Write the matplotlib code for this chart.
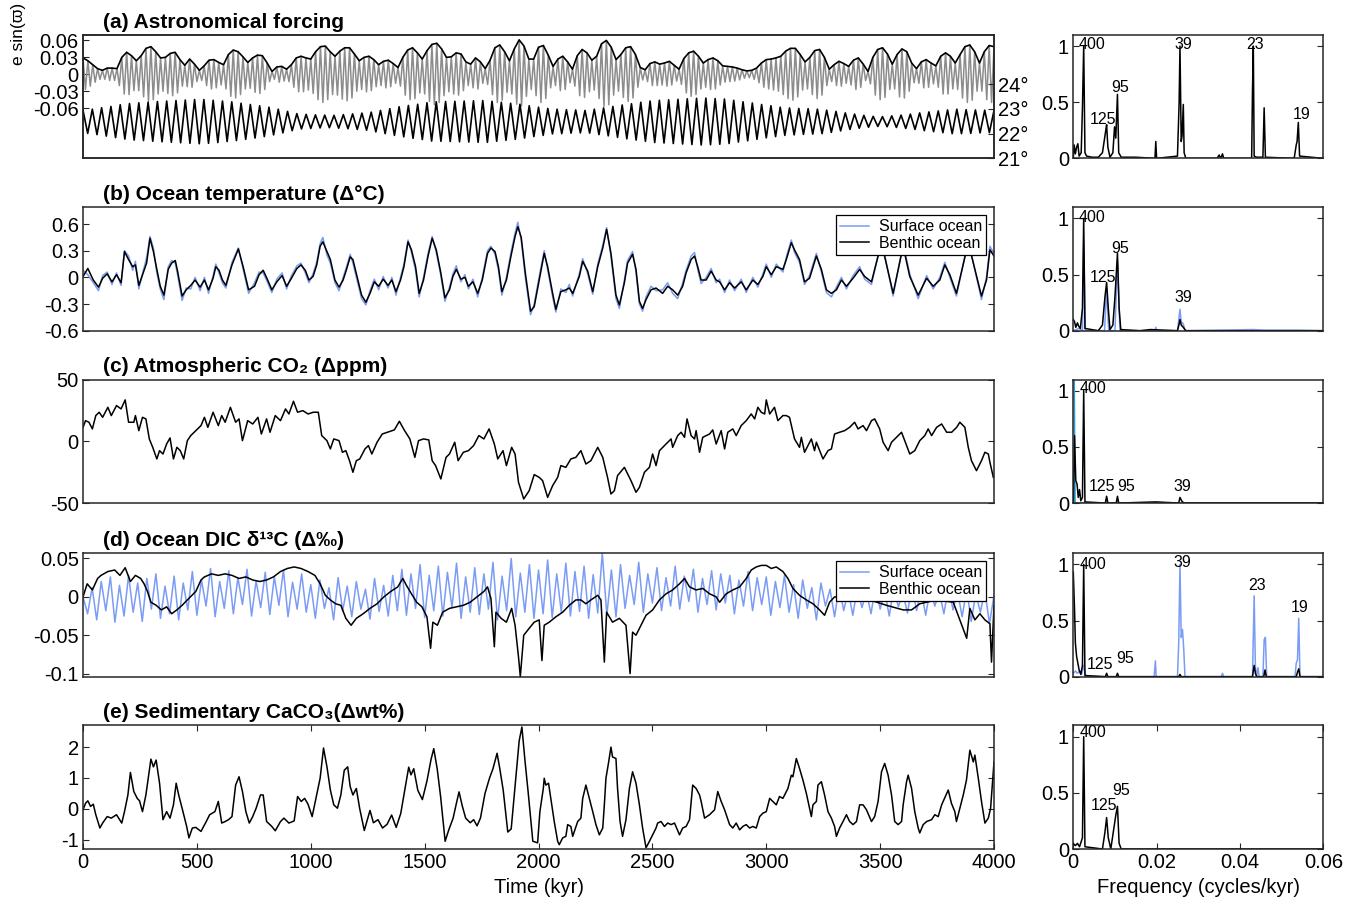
import numpy as np
import matplotlib
matplotlib.use('Agg')
import matplotlib.pyplot as plt

plt.rcParams['font.family'] = ['Liberation Sans', 'DejaVu Sans']
plt.rcParams['axes.unicode_minus'] = False
plt.rcParams['font.size'] = 14

# ---------------- (a) astronomical forcing ----------------
# eccentricity envelope, evenly spaced over 0-4000 kyr
ecc = [0.029, 0.024, 0.017, 0.010, 0.007, 0.011, 0.011, 0.010, 0.030, 0.039,
       0.033, 0.024, 0.033, 0.046, 0.049, 0.040, 0.029, 0.030, 0.037, 0.039,
       0.026, 0.016, 0.027, 0.018, 0.007, 0.015, 0.025, 0.026, 0.021, 0.017,
       0.035, 0.043, 0.040, 0.031, 0.021, 0.029, 0.034, 0.033, 0.020, 0.005,
       0.013, 0.014, 0.009, 0.017, 0.029, 0.032, 0.029, 0.027, 0.040, 0.049,
       0.050, 0.040, 0.032, 0.041, 0.047, 0.047, 0.036, 0.024, 0.030, 0.032,
       0.026, 0.017, 0.023, 0.025, 0.019, 0.012, 0.030, 0.043, 0.047, 0.038,
       0.027, 0.042, 0.053, 0.055, 0.045, 0.030, 0.031, 0.038, 0.036, 0.022,
       0.018, 0.029, 0.022, 0.010, 0.025, 0.047, 0.052, 0.040, 0.024, 0.045,
       0.061, 0.050, 0.027, 0.027, 0.048, 0.051, 0.034, 0.014, 0.027, 0.032,
       0.022, 0.009, 0.033, 0.044, 0.038, 0.025, 0.032, 0.054, 0.060, 0.048,
       0.026, 0.035, 0.047, 0.049, 0.035, 0.012, 0.008, 0.019, 0.022, 0.018,
       0.020, 0.023, 0.016, 0.009, 0.028, 0.038, 0.041, 0.032, 0.020, 0.026,
       0.029, 0.024, 0.015, 0.014, 0.013, 0.011, 0.008, 0.006, 0.007, 0.011,
       0.020, 0.026, 0.027, 0.029, 0.032, 0.041, 0.046, 0.046, 0.035, 0.022,
       0.030, 0.042, 0.044, 0.030, 0.009, 0.017, 0.023, 0.019, 0.014, 0.025,
       0.029, 0.018, 0.005, 0.030, 0.044, 0.047, 0.036, 0.018, 0.035, 0.045,
       0.040, 0.020, 0.010, 0.022, 0.026, 0.020, 0.015, 0.032, 0.038, 0.032,
       0.020, 0.035, 0.049, 0.052, 0.040, 0.020, 0.040, 0.051, 0.049]

# e*sin(varpi): precession extremes, evenly spaced
esinw = [0.029, -0.027, 0.024, -0.021, 0.017, -0.014, 0.010, -0.009, 0.007, -0.009,
         0.011, -0.011, 0.011, -0.011, 0.010, -0.020, 0.030, -0.035, 0.039, -0.036,
         0.033, -0.029, 0.024, -0.029, 0.033, -0.040, 0.046, -0.048, 0.049, -0.045,
         0.040, -0.035, 0.029, -0.030, 0.030, -0.034, 0.037, -0.038, 0.039, -0.033,
         0.026, -0.021, 0.016, -0.022, 0.027, -0.023, 0.018, -0.013, 0.007, -0.011,
         0.015, -0.020, 0.025, -0.026, 0.026, -0.024, 0.021, -0.019, 0.017, -0.026,
         0.035, -0.039, 0.043, -0.042, 0.040, -0.036, 0.031, -0.026, 0.021, -0.025,
         0.029, -0.032, 0.034, -0.034, 0.033, -0.027, 0.020, -0.013, 0.005, -0.009,
         0.013, -0.014, 0.014, -0.012, 0.009, -0.013, 0.017, -0.023, 0.029, -0.031,
         0.032, -0.031, 0.029, -0.028, 0.027, -0.034, 0.040, -0.045, 0.049, -0.050,
         0.050, -0.045, 0.040, -0.036, 0.032, -0.037, 0.041, -0.044, 0.047, -0.047,
         0.047, -0.042, 0.036, -0.030, 0.024, -0.027, 0.030, -0.031, 0.032, -0.029,
         0.026, -0.022, 0.017, -0.020, 0.023, -0.024, 0.025, -0.022, 0.019, -0.016,
         0.012, -0.021, 0.030, -0.037, 0.043, -0.045, 0.047, -0.043, 0.038, -0.033,
         0.027, -0.035, 0.042, -0.048, 0.053, -0.054, 0.055, -0.050, 0.045, -0.038,
         0.030, -0.031, 0.031, -0.035, 0.038, -0.037, 0.036, -0.029, 0.022, -0.020,
         0.018, -0.024, 0.029, -0.026, 0.022, -0.016, 0.010, -0.018, 0.025, -0.036,
         0.047, -0.050, 0.052, -0.046, 0.040, -0.032, 0.024, -0.035, 0.045, -0.053,
         0.061, -0.056, 0.050, -0.039, 0.027, -0.027, 0.027, -0.038, 0.048, -0.050,
         0.051, -0.043, 0.034, -0.024, 0.014, -0.020, 0.027, -0.029, 0.032, -0.027,
         0.022, -0.015, 0.009, -0.021, 0.033, -0.038, 0.044, -0.041, 0.038, -0.031,
         0.025, -0.028, 0.032, -0.043, 0.054, -0.057, 0.060, -0.054, 0.048, -0.037,
         0.026, -0.030, 0.035, -0.041, 0.047, -0.048, 0.049, -0.042, 0.035, -0.023,
         0.012, -0.010, 0.008, -0.013, 0.019, -0.020, 0.022, -0.020, 0.018, -0.019,
         0.020, -0.021, 0.023, -0.019, 0.016, -0.012, 0.009, -0.018, 0.028, -0.033,
         0.038, -0.039, 0.041, -0.036, 0.032, -0.026, 0.020, -0.023, 0.026, -0.027,
         0.029, -0.026, 0.024, -0.019, 0.015, -0.014, 0.014, -0.013, 0.013, -0.012,
         0.011, -0.010, 0.008, -0.007, 0.006, -0.006, 0.007, -0.009, 0.011, -0.015,
         0.020, -0.023, 0.026, -0.026, 0.027, -0.028, 0.029, -0.030, 0.032, -0.036,
         0.041, -0.043, 0.046, -0.046, 0.046, -0.040, 0.035, -0.028, 0.022, -0.026,
         0.030, -0.036, 0.042, -0.043, 0.044, -0.037, 0.030, -0.020, 0.009, -0.013,
         0.017, -0.020, 0.023, -0.021, 0.019, -0.016, 0.014, -0.019, 0.025, -0.027,
         0.029, -0.023, 0.018, -0.011, 0.005, -0.017, 0.030, -0.037, 0.044, -0.045,
         0.047, -0.041, 0.036, -0.027, 0.018, -0.026, 0.035, -0.040, 0.045, -0.042,
         0.040, -0.030, 0.020, -0.015, 0.010, -0.016, 0.022, -0.024, 0.026, -0.023,
         0.020, -0.017, 0.015, -0.023, 0.032, -0.035, 0.038, -0.035, 0.032, -0.026,
         0.020, -0.027, 0.035, -0.042, 0.049, -0.050, 0.052, -0.046, 0.040, -0.030,
         0.020, -0.030, 0.040, -0.045, 0.051, -0.050, 0.049]

# obliquity extremes (degrees), evenly spaced
obliquity = [22.94, 22.01, 22.99, 21.96, 23.05, 21.90, 23.10, 21.84, 23.17, 21.78,
             23.22, 21.74, 23.25, 21.72, 23.27, 21.69, 23.30, 21.67, 23.32, 21.65,
             23.34, 21.63, 23.36, 21.61, 23.38, 21.59, 23.38, 21.61, 23.35, 21.64,
             23.32, 21.68, 23.29, 21.72, 23.23, 21.77, 23.18, 21.82, 23.13, 21.88,
             23.07, 21.95, 22.99, 22.03, 22.90, 22.12, 22.81, 22.19, 22.78, 22.21,
             22.76, 22.23, 22.75, 22.24, 22.74, 22.22, 22.77, 22.20, 22.80, 22.17,
             22.83, 22.14, 22.87, 22.07, 22.94, 22.00, 23.01, 21.93, 23.09, 21.87,
             23.14, 21.81, 23.19, 21.76, 23.25, 21.70, 23.29, 21.69, 23.30, 21.68,
             23.31, 21.67, 23.32, 21.66, 23.33, 21.65, 23.34, 21.65, 23.31, 21.69,
             23.27, 21.73, 23.23, 21.77, 23.19, 21.82, 23.13, 21.88, 23.07, 21.93,
             23.02, 21.99, 22.99, 22.00, 22.97, 22.02, 22.96, 22.03, 22.94, 22.02,
             22.99, 21.96, 23.04, 21.91, 23.10, 21.85, 23.16, 21.79, 23.21, 21.74,
             23.27, 21.69, 23.32, 21.64, 23.35, 21.62, 23.37, 21.60, 23.39, 21.58,
             23.41, 21.56, 23.43, 21.54, 23.44, 21.55, 23.42, 21.57, 23.40, 21.60,
             23.35, 21.66, 23.29, 21.71, 23.24, 21.77, 23.18, 21.83, 23.13, 21.88,
             23.07, 21.93, 23.04, 21.95, 23.02, 21.97, 23.01, 21.98, 22.99, 22.00,
             22.95, 22.05, 22.90, 22.11, 22.84, 22.17, 22.79, 22.22, 22.74, 22.26,
             22.70, 22.29, 22.69, 22.28, 22.72, 22.25, 22.75, 22.21, 22.79, 22.17,
             22.84, 22.12, 22.88, 22.08, 22.92, 22.04, 22.96, 22.00, 22.99, 22.00,
             22.97, 22.01, 22.96, 22.03, 22.95, 22.04, 22.94]

# ---------------- (b) ocean temperature ----------------
temp_t = [0, 21, 45, 68, 86, 106, 127, 147, 167, 182, 200, 218, 230, 245, 264, 279, 294, 309, 324, 339,
          355, 374, 389, 405, 415, 435, 453, 473, 492, 514, 533, 551, 571, 583, 597, 612, 627, 654, 682, 703,
          727, 753, 773, 791, 809, 829, 851, 874, 894, 915, 939, 957, 976, 992, 1010, 1026, 1041, 1053, 1071, 1086,
          1106, 1124, 1142, 1157, 1173, 1185, 1203, 1223, 1242, 1260, 1279, 1298, 1318, 1339, 1356, 1374, 1394, 1409, 1427, 1442,
          1460, 1476, 1495, 1515, 1533, 1551, 1571, 1589, 1609, 1624, 1639, 1659, 1677, 1692, 1712, 1733, 1753, 1776, 1791, 1809,
          1824, 1839, 1859, 1879, 1897, 1909, 1924, 1942, 1965, 1981, 2003, 2025, 2040, 2062, 2076, 2098, 2120, 2135, 2150, 2179,
          2194, 2216, 2238, 2260, 2282, 2299, 2318, 2340, 2355, 2377, 2391, 2413, 2428, 2443, 2457, 2472, 2494, 2516, 2545, 2567,
          2589, 2611, 2633, 2648, 2670, 2685, 2699, 2714, 2736, 2758, 2780, 2795, 2817, 2839, 2861, 2890, 2912, 2941, 2963, 2985,
          3000, 3022, 3044, 3073, 3088, 3110, 3124, 3146, 3168, 3190, 3220, 3242, 3264, 3286, 3308, 3330, 3352, 3381, 3410, 3432,
          3462, 3506, 3557, 3601, 3630, 3667, 3704, 3733, 3762, 3784, 3806, 3835, 3887, 3945, 3967, 3982, 4000]
temp_benthic = [0.01, 0.10, -0.03, -0.11, -0.01, 0.04, -0.05, 0.03, -0.06, 0.29,
                0.20, 0.12, 0.14, -0.09, 0.05, 0.16, 0.44, 0.29, 0.09, -0.10,
                -0.20, 0.09, 0.16, 0.19, 0.07, -0.21, -0.14, -0.09, -0.03, -0.11,
                -0.03, -0.14, -0.01, 0.12, 0.08, -0.03, -0.09, 0.14, 0.32, 0.12,
                -0.14, -0.10, 0.03, 0.08, -0.02, -0.14, -0.05, 0.02, -0.10, -0.01,
                0.10, 0.14, 0.08, -0.03, 0.01, 0.14, 0.35, 0.40, 0.29, 0.20,
                -0.03, -0.11, -0.03, 0.09, 0.23, 0.20, 0.01, -0.20, -0.28, -0.18,
                -0.05, -0.10, -0.02, -0.09, -0.03, -0.16, -0.03, 0.12, 0.40, 0.31,
                0.12, -0.18, -0.03, 0.24, 0.44, 0.31, 0.05, -0.23, -0.14, 0.01,
                0.09, -0.02, 0.00, -0.10, -0.05, -0.18, -0.03, 0.27, 0.33, 0.29,
                0.12, -0.16, -0.03, 0.24, 0.46, 0.57, 0.45, 0.05, -0.38, -0.33,
                -0.03, 0.27, 0.12, -0.18, -0.36, -0.16, -0.14, -0.12, -0.18, 0.01,
                0.18, 0.07, -0.16, 0.12, 0.33, 0.54, 0.27, -0.20, -0.31, -0.06,
                0.16, 0.26, 0.09, -0.27, -0.35, -0.25, -0.14, -0.12, -0.18, -0.10,
                -0.14, -0.20, -0.10, 0.05, 0.20, 0.24, 0.12, -0.03, -0.03, 0.07,
                -0.03, -0.05, -0.14, -0.06, -0.12, -0.05, -0.14, -0.03, -0.08, 0.01,
                0.12, 0.03, 0.12, 0.09, 0.20, 0.39, 0.31, 0.20, -0.05, -0.01,
                0.24, 0.09, -0.14, -0.18, -0.14, -0.03, -0.10, -0.01, 0.09, 0.01,
                -0.05, 0.39, -0.18, 0.35, 0.01, -0.20, -0.01, -0.10, -0.03, 0.14,
                0.03, -0.18, 0.39, -0.21, -0.03, 0.31, 0.24]
temp_surface = [0.08, 0.03, -0.06, -0.15, 0.02, 0.06, -0.08, 0.05, -0.09, 0.30,
                0.24, 0.08, 0.18, -0.13, 0.07, 0.22, 0.46, 0.33, 0.05, -0.13,
                -0.25, 0.12, 0.19, 0.16, 0.03, -0.26, -0.12, -0.13, 0.00, -0.15,
                0.00, -0.18, 0.02, 0.15, 0.05, -0.06, -0.12, 0.17, 0.33, 0.09,
                -0.18, -0.06, 0.06, 0.05, -0.05, -0.17, -0.02, 0.05, -0.13, 0.02,
                0.13, 0.16, 0.05, -0.06, 0.04, 0.17, 0.38, 0.45, 0.25, 0.16,
                -0.06, -0.15, 0.00, 0.12, 0.26, 0.16, -0.03, -0.24, -0.31, -0.15,
                -0.02, -0.14, 0.01, -0.12, 0.00, -0.20, 0.00, 0.15, 0.42, 0.28,
                0.08, -0.22, 0.00, 0.27, 0.46, 0.28, 0.02, -0.27, -0.11, 0.04,
                0.13, -0.05, 0.03, -0.13, -0.02, -0.22, 0.00, 0.30, 0.35, 0.26,
                0.08, -0.20, 0.00, 0.28, 0.50, 0.62, 0.42, 0.00, -0.42, -0.30,
                0.01, 0.30, 0.09, -0.22, -0.39, -0.13, -0.17, -0.08, -0.21, 0.04,
                0.21, 0.04, -0.19, 0.15, 0.36, 0.56, 0.24, -0.24, -0.35, -0.03,
                0.19, 0.29, 0.06, -0.30, -0.38, -0.22, -0.10, -0.15, -0.14, -0.06,
                -0.18, -0.24, -0.06, 0.08, 0.24, 0.28, 0.09, -0.07, 0.00, 0.10,
                -0.06, -0.02, -0.17, -0.03, -0.15, -0.02, -0.17, 0.00, -0.11, 0.04,
                0.15, 0.00, 0.15, 0.06, 0.23, 0.42, 0.28, 0.17, -0.08, 0.02,
                0.27, 0.06, -0.17, -0.22, -0.11, 0.00, -0.13, 0.02, 0.12, -0.02,
                -0.08, 0.42, -0.21, 0.38, 0.04, -0.24, 0.02, -0.13, 0.00, 0.17,
                0.00, -0.21, 0.42, -0.25, 0.00, 0.35, 0.27]

# ---------------- (c) atmospheric CO2 ----------------
co2_t = [0, 11, 26, 41, 56, 71, 86, 109, 124, 147, 167, 185, 200, 223, 230, 245, 261, 276, 291, 306,
         324, 336, 351, 367, 382, 397, 412, 427, 442, 458, 473, 495, 518, 533, 548, 571, 594, 609, 624, 647,
         670, 685, 700, 723, 745, 768, 783, 806, 821, 844, 867, 889, 904, 924, 942, 965, 988, 1011, 1033, 1048,
         1071, 1086, 1101, 1124, 1139, 1154, 1170, 1185, 1200, 1215, 1238, 1253, 1268, 1291, 1314, 1336, 1367, 1389, 1412, 1435,
         1457, 1473, 1495, 1518, 1533, 1548, 1571, 1594, 1609, 1632, 1647, 1670, 1692, 1715, 1738, 1760, 1783, 1806, 1821, 1844,
         1859, 1882, 1897, 1912, 1935,
         1959, 1981, 2003, 2018, 2040, 2062, 2084, 2098, 2120, 2142, 2164, 2186, 2208, 2230, 2260, 2282, 2303, 2318, 2333, 2347,
         2377, 2406, 2428, 2443, 2465, 2487, 2501, 2516, 2531, 2553, 2582, 2589, 2611, 2626, 2641, 2652, 2670, 2685, 2692, 2707,
         2721, 2751, 2765, 2780, 2802, 2817, 2831, 2853, 2868, 2890, 2912, 2934, 2949, 2963, 2978, 2993, 3000, 3015, 3036, 3051,
         3073, 3088, 3102, 3124, 3146, 3154, 3168, 3198, 3212, 3220, 3249, 3271, 3286, 3300, 3322, 3344, 3366, 3388, 3403, 3425,
         3440, 3462, 3476, 3498, 3513, 3535, 3550, 3572, 3594, 3616, 3630, 3652, 3674, 3696, 3711, 3726, 3748, 3770, 3792, 3814,
         3836, 3850, 3872, 3887, 3901, 3923, 3945, 3960, 3975, 3982, 3997]
co2 = [11.3, 16.7, 15.4, 10.0, 20.8, 23.5, 19.4, 27.5, 20.8, 28.9,
       26.2, 33.5, 15.4, 15.4, 20.8, 8.6, 19.4, 18.1, 1.9, -4.9,
       -14.3, -7.6, -10.3, -2.2, 2.7, -14.3, -4.9, -7.6, -14.3, 0.5,
       4.6, 8.6, 12.7, 19.4, 11.3, 23.5, 12.7, 20.8, 15.4, 27.5,
       15.4, 18.1, 0.5, 16.7, 14.0, 19.4, 5.9, 18.1, 7.3, 20.8,
       16.7, 26.2, 22.1, 32.4, 23.5, 24.8, 22.1, 23.5, 23.5, 4.6,
       0.5, -6.2, 1.9, 0.5, -8.9, -7.6, -15.7, -25.1, -15.7, -14.3,
       -6.2, -3.5, -10.3, -0.8, 5.9, 7.3, 9.2, 16.2, 8.6, 1.9,
       -13.0, 0.5, 1.9, 1.1, -15.7, -19.7, -30.5, -13.0, -10.3, -0.8,
       -15.7, -8.9, -7.6, -3.5, 4.6, 1.9, 10.0, -2.2, -14.3, -7.6,
       -19.7, -4.9, -10.3, -33.2, -46.7,
       -40.0, -27.0, -29.2, -31.9, -45.4, -35.9, -29.2, -19.7, -21.1, -14.3,
       -13.0, -7.6, -18.4, -15.7, -4.9, -13.0, -29.2, -42.7, -40.0, -27.8,
       -21.1, -31.9, -41.3, -37.3, -25.1, -21.1, -10.3, -19.7, -7.6, -3.5,
       1.9, -4.9, 4.6, 7.3, 3.2, 18.1, 4.6, 1.9, 8.6, -8.9,
       3.2, 5.9, 9.2, -2.2, 8.6, -6.2, 7.3, 10.0, 4.6, 12.7,
       16.7, 22.1, 18.1, 27.5, 23.5, 22.1, 33.5, 22.1, 27.5, 16.7,
       20.8, 20.8, 19.4, 1.9, -4.9, 3.2, -8.9, 1.9, -7.6, -0.8,
       -14.3, -7.6, -6.2, 5.9, 7.3, 8.6, 11.3, 15.4, 10.0, 12.7,
       8.6, 16.7, 18.1, 10.0, -0.8, -7.6, -0.8, 3.2, 7.3, -3.5,
       -10.3, -7.6, 0.5, 4.6, 10.0, 4.6, 11.3, 14.0, 7.3, 7.3,
       11.3, 15.4, 11.3, -4.9, -15.7, -23.8, -15.7, -8.9, -10.3, -17.0, -29.2]

# ---------------- (d) ocean DIC d13C ----------------
# surface ocean extremes, evenly spaced
d13c_surface = [0.000, -0.022, 0.012, -0.030, 0.020, -0.018, 0.026, -0.033, 0.015, -0.025,
                0.028, -0.020, 0.018, -0.032, 0.024, -0.016, 0.030, -0.028, 0.014, -0.022,
                0.027, -0.030, 0.018, -0.017, 0.033, -0.024, 0.022, -0.012, 0.037, -0.026,
                0.020, -0.015, 0.034, -0.022, 0.025, -0.010, 0.036, -0.025, 0.021, -0.014,
                0.032, -0.023, 0.026, -0.011, 0.035, -0.026, 0.019, -0.016, 0.030, -0.020,
                0.016, -0.028, 0.022, -0.015, 0.012, -0.030, 0.025, -0.018, 0.014, -0.026,
                0.020, -0.016, 0.010, -0.029, 0.024, -0.019, 0.015, -0.025, 0.028, -0.018,
                0.036, -0.024, 0.030, -0.015, 0.042, -0.027, 0.028, -0.018, 0.040, -0.025,
                0.032, -0.014, 0.044, -0.028, 0.026, -0.020, 0.038, -0.023, 0.030, -0.016,
                0.045, -0.030, 0.027, -0.018, 0.050, -0.026, 0.031, -0.020, 0.042, -0.028,
                0.035, -0.022, 0.048, -0.027, 0.030, -0.020, 0.044, -0.025, 0.033, -0.019,
                0.040, -0.028, 0.029, -0.021, 0.057, -0.024, 0.035, -0.026, 0.042, -0.015,
                0.028, -0.010, 0.045, -0.020, 0.030, -0.008, 0.038, -0.018, 0.025, -0.012,
                0.040, -0.016, 0.027, -0.006, 0.036, -0.020, 0.024, -0.010, 0.034, -0.017,
                0.030, -0.008, 0.028, -0.022, 0.022, -0.012, 0.033, -0.018, 0.025, -0.010,
                0.026, -0.024, 0.020, -0.014, 0.028, -0.020, 0.016, -0.028, 0.022, -0.015,
                0.012, -0.030, 0.018, -0.012, 0.010, -0.026, 0.014, -0.018, 0.008, -0.024,
                0.012, -0.014, 0.006, -0.022, 0.015, -0.016, 0.008, -0.025, 0.012, -0.013,
                0.005, -0.021, 0.014, -0.018, 0.009, -0.024, 0.011, -0.012, 0.006, -0.022,
                0.013, -0.017, 0.007, -0.026, 0.010, -0.032, 0.004, -0.020, 0.008, -0.035,
                0.002]
d13c_t = [0, 18, 41, 64, 79, 109, 139, 162, 185, 208, 230, 253, 268, 283, 298, 321, 344, 367, 389, 412,
          435, 458, 495, 518, 533, 564, 594, 624, 654, 685, 715, 745, 776, 806, 836, 867, 897, 927, 957, 988,
          1018, 1041, 1064, 1086, 1109, 1132, 1154, 1177, 1200, 1230, 1260, 1291, 1321, 1351, 1382, 1404, 1420, 1442, 1465, 1488,
          1510, 1526, 1536, 1556, 1579, 1609, 1639, 1670, 1700, 1730, 1760, 1776, 1791, 1806, 1813, 1836, 1859, 1882, 1897, 1912,
          1920, 1935,
          1959, 1981, 2003, 2015, 2025, 2047, 2076, 2106, 2135, 2164, 2186, 2208, 2230, 2260, 2274, 2289, 2299, 2325, 2355, 2384,
          2402, 2413, 2428, 2450, 2472, 2501, 2531, 2560, 2589, 2619, 2641, 2663, 2692, 2721, 2751, 2780, 2795, 2824, 2853, 2883,
          2912, 2934, 2956, 2978, 3000, 3022, 3044, 3073, 3095, 3117, 3146, 3176, 3205, 3234, 3256, 3278, 3300, 3381, 3454, 3528,
          3601, 3638, 3674, 3748, 3821, 3880, 3894, 3916, 3938, 3960, 3982, 3989, 4000]
d13c_benthic = [0, 0.017, 0.009, 0.024, 0.028, 0.033, 0.035, 0.028, 0.038, 0.020,
                0.028, 0.024, 0.017, 0.007, -0.007, -0.011, -0.017, -0.013, -0.022, -0.017,
                -0.011, -0.004, 0.007, 0.022, 0.026, 0.030, 0.028, 0.030, 0.028, 0.024,
                0.026, 0.022, 0.020, 0.022, 0.026, 0.033, 0.037, 0.039, 0.037, 0.033,
                0.028, 0.017, 0.002, -0.004, -0.009, -0.011, -0.028, -0.037, -0.028, -0.022,
                -0.015, -0.009, 0.000, 0.007, 0.013, 0.024, 0.015, 0.004, -0.007, -0.013,
                -0.026, -0.067, -0.033, -0.037, -0.020, -0.015, -0.013, -0.011, -0.007, 0.000,
                0.007, 0.013, -0.002, -0.065, -0.020, -0.028, -0.033, -0.015, -0.037, -0.078,
                -0.104, -0.050,
                -0.041, -0.033, -0.030, -0.083, -0.037, -0.033, -0.026, -0.020, -0.011, -0.004,
                -0.004, -0.009, -0.004, 0.002, -0.004, -0.085, -0.020, -0.033, -0.028, -0.037,
                -0.100, -0.046, -0.050, -0.037, -0.024, -0.017, -0.004, 0.004, 0.009, 0.017,
                0.024, 0.013, 0.009, 0.011, 0.004, 0.000, -0.007, 0.004, 0.009, 0.013,
                0.024, 0.035, 0.039, 0.041, 0.041, 0.037, 0.039, 0.033, 0.024, 0.011,
                0.002, -0.004, -0.009, -0.017, -0.024, -0.007, 0.000, -0.002, -0.004, -0.011,
                -0.017, -0.017, -0.009, -0.004, -0.007, -0.054, -0.015, -0.030, -0.022, -0.030,
                -0.035, -0.085, -0.011]

# ---------------- (e) sedimentary CaCO3 ----------------
caco3_t = [0, 11, 21, 33, 45, 56, 74, 86, 106, 124, 147, 170, 182, 197, 208, 223, 238, 248, 261, 276,
           298, 309, 321, 336, 351, 367, 382, 397, 409, 420, 435, 455, 465, 480, 495, 518, 541, 556, 579, 594,
           609, 624, 639, 654, 670, 685, 700, 715, 730, 745, 760, 779, 791, 806, 829, 844, 867, 882, 904, 927,
           942, 958, 973, 988, 1006, 1026, 1041, 1056, 1071, 1086, 1101, 1117, 1132, 1147, 1162, 1173, 1185, 1200, 1215, 1235,
           1260, 1275, 1295, 1315, 1335, 1355, 1375, 1395, 1415, 1430, 1440, 1452, 1470, 1490, 1510, 1528, 1540, 1555, 1570, 1590,
           1605, 1625, 1640, 1651, 1665, 1680, 1700, 1715, 1730, 1745, 1765, 1785, 1800, 1818, 1830, 1845, 1865, 1880, 1900, 1915,
           1927, 1940, 1955, 1975, 1996,
           2006, 2021, 2025, 2032, 2044, 2054, 2069, 2084, 2091, 2106, 2120, 2128, 2142, 2150, 2172, 2186, 2194, 2208, 2223, 2238,
           2252, 2267, 2282, 2289, 2296, 2308, 2318, 2325, 2340, 2347, 2358, 2369, 2384, 2399, 2413, 2428, 2443, 2457, 2472, 2487,
           2501, 2516, 2523, 2538, 2553, 2567, 2582, 2597, 2619, 2633, 2648, 2663, 2677, 2692, 2707, 2714, 2729, 2751, 2765, 2773,
           2787, 2802, 2817, 2839, 2853, 2868, 2883, 2897, 2912, 2927, 2941, 2956, 2971, 2985, 3000, 3015, 3029, 3044, 3058, 3073,
           3095, 3110, 3117, 3132, 3146, 3161, 3176, 3190, 3198, 3205, 3220, 3227, 3242, 3256, 3271, 3286, 3300, 3308, 3322, 3337,
           3352, 3366, 3381, 3396, 3410, 3425, 3440, 3462, 3476, 3491, 3506, 3520, 3535, 3550, 3564, 3579, 3594, 3601, 3616, 3623,
           3638, 3652, 3667, 3674, 3689, 3704, 3726, 3740, 3755, 3770, 3799, 3813, 3828, 3835, 3850, 3865, 3879, 3894, 3909, 3916,
           3931, 3945, 3960, 3975, 3985, 4000]
caco3 = [-0.03, 0.18, 0.26, 0.08, 0.15, -0.19, -0.62, -0.46, -0.25, -0.30,
         -0.19, -0.46, -0.09, 0.45, 1.18, 0.56, 0.34, 0.26, -0.09, 0.45,
         1.61, 1.36, 1.58, 0.83, -0.35, -0.09, -0.30, 0.13, 0.83, 0.45,
         0.02, -0.57, -0.94, -0.62, -0.60, -0.73, -0.41, -0.19, -0.09, 0.24,
         -0.46, -0.41, -0.35, -0.25, 0.77, 1.04, 0.56, -0.09, -0.46, -0.25,
         0.02, 0.45, 0.45, -0.41, -0.57, -0.71, -0.41, -0.30, -0.46, -0.39,
         0.40, 0.24, 0.34, 0.15, -0.25, 0.45, 0.99, 1.97, 1.36, 0.61,
         0.13, 0.02, 0.45, 1.25, 1.36, 0.72, 0.45, 0.66, 0.00, -0.70,
         -0.05, -0.45, -0.35, -0.62, -0.50, -0.20, -0.60, -0.15, 0.70, 1.35,
         1.10, 1.30, 0.60, 0.30, 0.90, 1.60, 1.95, 1.30, 0.40, -1.05,
         -0.70, -0.30, 0.20, 0.55, 0.10, -0.30, -0.45, -0.35, -0.55, -0.30,
         0.50, 1.00, 1.30, 1.80, 1.30, 0.60, -0.75, -0.65, 1.00, 2.20,
         2.65, 1.60, 0.50, -1.05, -1.10,
         -0.09, 0.66, 0.99, 0.77, 0.83, 0.34, -0.41, -1.05, -1.16, -0.94,
         -0.89, -0.51, -0.57, -0.89, -0.41, -0.30, 0.34, 0.77, 0.34, -0.09,
         -0.51, -0.84, -0.62, 0.13, 0.99, 1.52, 2.00, 1.68, 1.63, 0.66,
         -0.41, -0.89, -0.35, 0.66, 1.20, 0.83, 0.13, -0.62, -1.26, -1.05,
         -0.84, -0.62, -0.46, -0.41, -0.57, -0.46, -0.51, -0.46, -0.84, -0.62,
         -0.57, -0.35, 0.77, 0.66, 0.45, 0.24, -0.30, -0.19, -0.09, -0.03,
         0.56, 0.24, -0.03, -0.51, -0.62, -0.46, -0.68, -0.57, -0.51, -0.62,
         -0.57, -0.62, -0.25, -0.14, -0.09, 0.34, 0.24, 0.13, 0.40, 0.34,
         0.66, 1.09, 1.04, 1.63, 1.31, 0.93, 0.50, 0.02, -0.25, 0.13,
         0.24, 0.77, 0.88, 0.45, -0.09, -0.30, -0.57, -0.89, -0.62, -0.41,
         -0.19, -0.41, -0.51, -0.41, 0.13, 0.13, -0.03, -0.41, -0.25, 0.24,
         1.20, 1.47, 1.09, 0.45, -0.41, -0.51, -0.41, 0.13, 0.88, 1.09,
         0.66, -0.09, -0.62, -0.78, -0.51, -0.41, -0.35, -0.19, -0.25, 0.13,
         0.61, 0.18, -0.09, -0.41, 0.02, 0.45, 0.93, 1.90, 1.52, 1.74,
         0.99, 0.24, -0.46, -0.30, 0.02, 1.52]

# ---------------- normalised power spectra ----------------
spec_a_f = [0, 0.0002, 0.0005, 0.0008, 0.0011, 0.0014, 0.0019, 0.0022, 0.0025, 0.0028, 0.0032, 0.0045,
            0.0060, 0.0070, 0.0078, 0.0080, 0.0083, 0.0088, 0.0095, 0.0099, 0.0102, 0.0106, 0.0109, 0.0115,
            0.0150, 0.0196, 0.0198, 0.0200, 0.0250, 0.0254, 0.0256, 0.0259, 0.0261, 0.0264, 0.0266, 0.0270,
            0.0345, 0.0350, 0.0354, 0.0358, 0.0361, 0.0428, 0.0430, 0.0432, 0.0434, 0.0440, 0.0455, 0.0458,
            0.0461, 0.0530, 0.0535, 0.0537, 0.0540, 0.0543, 0.06]
spec_a_p = [0.0, 0.12, 0.04, 0.10, 0.13, 0.02, 0.05, 0.45, 1.0, 0.05, 0.02, 0.01,
            0.01, 0.05, 0.25, 0.30, 0.10, 0.01, 0.05, 0.28, 0.18, 0.57, 0.05, 0.01,
            0.01, 0.0, 0.15, 0.0, 0.02, 0.5, 1.0, 0.15, 0.2, 0.48, 0.05, 0.0,
            0.0, 0.03, 0.0, 0.04, 0.0, 0.0, 0.6, 1.0, 0.02, 0.01, 0.01, 0.45,
            0.01, 0.0, 0.12, 0.15, 0.32, 0.02, 0.0]

spec_b_f = [0, 0.0003, 0.0006, 0.0010, 0.0013, 0.0017, 0.0022, 0.0025, 0.0028, 0.0060, 0.0070, 0.0076,
            0.0080, 0.0084, 0.0088, 0.0095, 0.0100, 0.0106, 0.0110, 0.0114, 0.0160, 0.0185, 0.0250, 0.0254,
            0.0256, 0.0259, 0.0264, 0.0270, 0.06]
spec_b_benthic = [0.10, 0.08, 0.03, 0.07, 0.04, 0.02, 0.2, 1.0, 0.02, 0.0, 0.05, 0.30,
                  0.43, 0.2, 0.01, 0.05, 0.3, 0.69, 0.2, 0.01, 0.0, 0.01, 0.0, 0.06,
                  0.10, 0.05, 0.03, 0.0, 0.0]
spec_b_sf = [0, 0.0014, 0.0022, 0.0025, 0.0029, 0.0075, 0.0080, 0.0085, 0.0100, 0.0106, 0.0112, 0.0196,
             0.0198, 0.0200, 0.0250, 0.0256, 0.0259, 0.0264, 0.0268, 0.0432, 0.0458, 0.0540, 0.06]
spec_b_surface = [0.0, 0.02, 0.0, 0.8, 0.0, 0.0, 0.38, 0.0, 0.0, 0.62, 0.0, 0.0,
                  0.03, 0.0, 0.0, 0.19, 0.08, 0.06, 0.0, 0.01, 0.005, 0.005, 0.0]

spec_c_f = [0, 0.0003, 0.0006, 0.0009, 0.0012, 0.0015, 0.0018, 0.0022, 0.0025, 0.0028, 0.0077, 0.0080,
            0.0083, 0.0103, 0.0106, 0.0109, 0.0198, 0.0253, 0.0256, 0.0260, 0.0265, 0.06]
spec_c_p = [0.0, 0.6, 0.2, 0.17, 0.05, 0.12, 0.02, 0.05, 1.0, 0.01, 0.0, 0.06,
            0.0, 0.0, 0.06, 0.0, 0.01, 0.0, 0.05, 0.02, 0.0, 0.0]
spec_c_lf = [0, 0.0002, 0.0004, 0.06]
spec_c_lp = [1.1, 1.1, 0.0, 0.0]

spec_d_f = [0, 0.0003, 0.0005, 0.0008, 0.0011, 0.0014, 0.0018, 0.0022, 0.0025, 0.0028, 0.0077, 0.0080,
            0.0083, 0.0103, 0.0106, 0.0109, 0.0253, 0.0256, 0.0259, 0.0430, 0.0434, 0.0437, 0.0440, 0.0457,
            0.0460, 0.0463, 0.0535, 0.0538, 0.0541, 0.0544, 0.06]
spec_d_benthic = [0.93, 0.6, 0.3, 0.18, 0.12, 0.06, 0.02, 0.1, 1.0, 0.01, 0.0, 0.03,
                  0.0, 0.0, 0.03, 0.0, 0.0, 0.02, 0.0, 0.0, 0.10, 0.03, 0.0, 0.0,
                  0.06, 0.0, 0.0, 0.04, 0.07, 0.0, 0.0]
spec_d_sf = [0, 0.0005, 0.0010, 0.0015, 0.0020, 0.0025, 0.0030, 0.0194, 0.0197, 0.0199, 0.0250, 0.0253,
             0.0256, 0.0259, 0.0262, 0.0265, 0.0268, 0.0355, 0.0358, 0.0361, 0.0430, 0.0434, 0.0437, 0.0440,
             0.0443, 0.0446, 0.0455, 0.0458, 0.0461, 0.0464, 0.0532, 0.0535, 0.0538, 0.0541, 0.0544, 0.06]
spec_d_surface = [0.03, 0.05, 0.03, 0.05, 0.02, 0.1, 0.0, 0.0, 0.14, 0.0, 0.0, 0.3,
                  1.0, 0.35, 0.42, 0.25, 0.0, 0.0, 0.03, 0.0, 0.0, 0.72, 0.08, 0.0,
                  0.08, 0.0, 0.0, 0.33, 0.35, 0.0, 0.0, 0.12, 0.15, 0.52, 0.0, 0.0]

spec_e_f = [0, 0.0005, 0.0010, 0.0015, 0.0022, 0.0025, 0.0028, 0.0070, 0.0076, 0.0080, 0.0084, 0.0090,
            0.0098, 0.0102, 0.0106, 0.0110, 0.0115, 0.06]
spec_e_p = [0.05, 0.03, 0.05, 0.02, 0.1, 1.0, 0.02, 0.0, 0.15, 0.28, 0.1, 0.0,
            0.2, 0.30, 0.38, 0.05, 0.0, 0.0]

BLUE = '#7b9cf5'
FRAME = '#262626'
TICK_FS = 14.5
TITLE_FS = 15
SMALL_FS = 11.5


def line(ax, x, y, **kw):
    n = min(len(x), len(y))
    return ax.plot(np.asarray(x[:n], float), np.asarray(y[:n], float), **kw)


def style(ax, right=True, top=True):
    for s in ax.spines.values():
        s.set_color(FRAME)
        s.set_linewidth(1.1)
    ax.tick_params(direction='in', length=4, width=0.8, colors=FRAME,
                   labelcolor='black', labelsize=TICK_FS, right=right, top=top, pad=3)


def title(ax, txt):
    ax.text(0.022, 1.103, txt, transform=ax.transAxes, ha='left', va='center',
            fontsize=TITLE_FS, fontweight='bold')


fig = plt.figure(figsize=(13.48, 9.09), dpi=100)
L, W = 0.0616, 0.6758
SL, SW = 0.7962, 0.1855
H = 0.1359
bottoms = [0.8258, 0.6362, 0.4466, 0.2556, 0.0660]
axs = [fig.add_axes([L, b, W, H]) for b in bottoms]
sps = [fig.add_axes([SL, b, SW, H]) for b in bottoms]

# ---- (a)
ax = axs[0]
line(ax, np.linspace(0, 4000, len(esinw)), esinw, color='#8c8c8c', lw=1.1)
line(ax, np.linspace(0, 4000, len(ecc)), ecc, color='k', lw=1.2)
ax.set_ylim(-0.149, 0.070)
ax.set_yticks([-0.06, -0.03, 0, 0.03, 0.06])
ax.set_yticklabels(['-0.06', '-0.03', '0', '0.03', '0.06'])
style(ax, right=False)
ax2 = ax.twinx()
line(ax2, np.linspace(0, 4000, len(obliquity)), obliquity, color='k', lw=1.2)
ax2.set_ylim(21, 26)
ax2.set_yticks([21, 22, 23, 24])
ax2.set_yticklabels(['21°', '22°', '23°', '24°'])
style(ax2, right=True, top=False)
ax2.tick_params(left=False)
for a in (ax, ax2):
    a.set_xlim(0, 4000)
    a.set_xticks([])
title(ax, '(a) Astronomical forcing')
fig.text(0.0135, 1 - 34 / 909, 'e sin(ϖ)', rotation=90, ha='center', va='center', fontsize=12.5)

# ---- (b)
ax = axs[1]
line(ax, temp_t, temp_surface, color=BLUE, lw=1.1, label='Surface ocean')
line(ax, temp_t, temp_benthic, color='k', lw=1.1, label='Benthic ocean')
ax.set_ylim(-0.6, 0.79)
ax.set_yticks([-0.6, -0.3, 0, 0.3, 0.6])
ax.set_yticklabels(['-0.6', '-0.3', '0', '0.3', '0.6'])
title(ax, '(b) Ocean temperature (Δ°C)')

# ---- (c)
ax = axs[2]
line(ax, co2_t, co2, color='k', lw=1.1)
ax.set_ylim(-50, 50)
ax.set_yticks([-50, 0, 50])
title(ax, '(c) Atmospheric CO₂ (Δppm)')

# ---- (d)
ax = axs[3]
line(ax, np.linspace(0, 4000, len(d13c_surface)), d13c_surface, color=BLUE, lw=1.1, label='Surface ocean')
line(ax, d13c_t, d13c_benthic, color='k', lw=1.1, label='Benthic ocean')
ax.set_ylim(-0.104, 0.057)
ax.set_yticks([-0.1, -0.05, 0, 0.05])
ax.set_yticklabels(['-0.1', '-0.05', '0', '0.05'])
title(ax, '(d) Ocean DIC δ¹³C (Δ‰)')

# ---- (e)
ax = axs[4]
line(ax, caco3_t, caco3, color='k', lw=1.1)
ax.set_ylim(-1.3, 2.7)
ax.set_yticks([-1, 0, 1, 2])
ax.set_xticks(np.arange(0, 4001, 500))
ax.set_xlabel('Time (kyr)', fontsize=TICK_FS, labelpad=4)
title(ax, '(e) Sedimentary CaCO₃(Δwt%)')

for i, ax in enumerate(axs[1:], start=1):
    ax.set_xlim(0, 4000)
    style(ax)
    if i < 4:
        ax.set_xticks([])

for ax in (axs[1], axs[3]):
    ax.legend(loc='upper right', bbox_to_anchor=(1 - 8 / 911, 1 - 8 / 123.5), borderaxespad=0,
              frameon=True, fancybox=False, framealpha=1, edgecolor='k', fontsize=SMALL_FS,
              handlelength=1.8, handletextpad=0.6, borderpad=0.25, labelspacing=0.12)
    ax.get_legend().get_frame().set_linewidth(0.9)

# ---- spectra
line(sps[0], spec_a_f, spec_a_p, color='k', lw=1.1)
line(sps[1], spec_b_sf, spec_b_surface, color=BLUE, lw=1.1)
line(sps[1], spec_b_f, spec_b_benthic, color='k', lw=1.1)
line(sps[2], spec_c_lf, spec_c_lp, color='#2a9fd8', lw=1.3)
line(sps[2], spec_c_f, spec_c_p, color='k', lw=1.1)
line(sps[3], spec_d_sf, spec_d_surface, color=BLUE, lw=1.1)
line(sps[3], spec_d_f, spec_d_benthic, color='k', lw=1.1)
line(sps[4], spec_e_f, spec_e_p, color='k', lw=1.1)

peak_labels = [
    [('400', 0.0044, 1.01), ('125', 0.0072, 0.35), ('95', 0.0112, 0.63),
     ('39', 0.0264, 1.01), ('23', 0.0436, 1.01), ('19', 0.0548, 0.39)],
    [('400', 0.0044, 1.01), ('125', 0.0072, 0.47), ('95', 0.0112, 0.73), ('39', 0.0264, 0.30)],
    [('400', 0.0048, 1.02), ('125', 0.0068, 0.15), ('95', 0.0128, 0.15), ('39', 0.0262, 0.15)],
    [('400', 0.0048, 1.00), ('125', 0.0064, 0.11), ('95', 0.0124, 0.16),
     ('39', 0.0262, 1.02), ('23', 0.0442, 0.81), ('19', 0.0544, 0.62)],
    [('400', 0.0047, 1.04), ('125', 0.0074, 0.385), ('95', 0.0115, 0.52)],
]
for sp, labs in zip(sps, peak_labels):
    sp.set_xlim(0, 0.06)
    sp.set_ylim(0, 1.1)
    sp.set_yticks([0, 0.5, 1])
    sp.set_yticklabels(['0', '0.5', '1'])
    style(sp)
    for txt, fx, fy in labs:
        sp.text(fx, fy, txt, ha='center', va='center', fontsize=SMALL_FS)
for sp in sps[:4]:
    sp.set_xticks([])
sps[4].set_xticks([0, 0.02, 0.04, 0.06])
sps[4].set_xticklabels(['0', '0.02', '0.04', '0.06'])
sps[4].set_xlabel('Frequency (cycles/kyr)', fontsize=TICK_FS, labelpad=4)

fig.savefig('out.png', dpi=100)
